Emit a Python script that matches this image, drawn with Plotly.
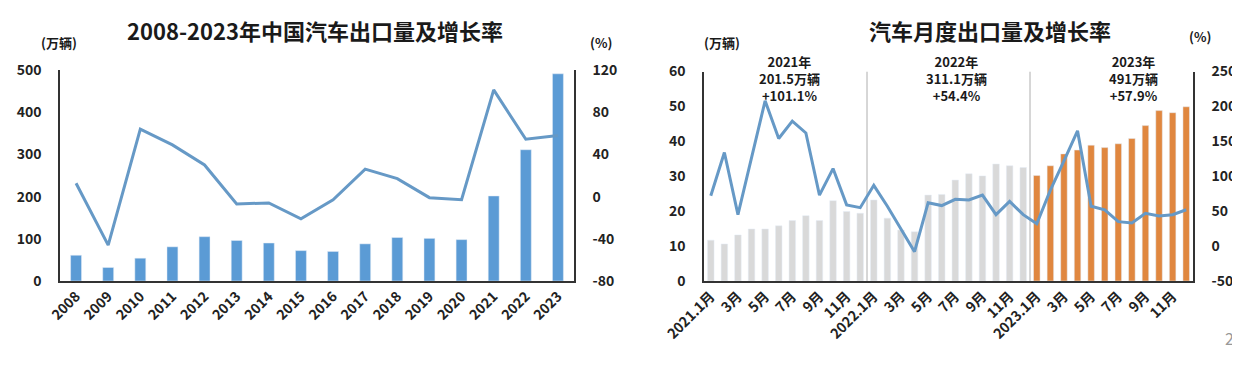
import plotly.graph_objects as go

# ---------------- data: annual exports ----------------
years = [str(y) for y in range(2008, 2024)]
annual_volume = [61, 32, 54, 81, 105, 96, 90, 72, 70, 88, 103, 101, 98, 201.5, 311.1, 491]  # 万辆
annual_growth = [12.6, -46, 64, 49, 30, -7, -6, -21, -3, 26, 17, -1, -3, 101.1, 54.4, 57.9]  # %
annual_rate_ticks = [-80, -40, 0, 40, 80, 120]
annual_rate_tick_labels = ["-80", "-40", "0", "40", "80", "120"]

# ---------------- data: monthly exports ----------------
months = [f"{y}.{m}" for y in (2021, 2022, 2023) for m in range(1, 13)]
month_tick_labels = ["2021.1月", "3月", "5月", "7月", "9月", "11月",
                     "2022.1月", "3月", "5月", "7月", "9月", "11月",
                     "2023.1月", "3月", "5月", "7月", "9月", "11月"]
volume_2021 = [11.7, 10.6, 13.2, 14.9, 14.9, 15.8, 17.3, 18.7, 17.3, 23.0, 19.9, 19.4]
volume_2022 = [23.2, 18.0, 14.6, 14.1, 24.6, 24.8, 28.9, 30.7, 30.1, 33.5, 33.0, 32.5]
volume_2023 = [30.2, 33.0, 36.4, 37.5, 38.9, 38.2, 39.3, 40.8, 44.5, 48.8, 48.2, 49.9]
monthly_growth = [72, 134, 45, 128, 208, 154, 179, 162, 73, 111, 59, 55,
                  87, 57, 25, -8, 62, 58, 67, 66, 73, 45, 64, 45,
                  32, 80, 122, 165, 57, 52, 35, 33, 47, 43, 45, 52]
monthly_rate_ticks = [-50, 0, 50, 100, 150, 200, 250]
monthly_rate_tick_labels = ["-50", "0", "50", "100", "150", "200", "250"]
year_notes = ["2021年<br>201.5万辆<br>+101.1%", "2022年<br>311.1万辆<br>+54.4%", "2023年<br>491万辆<br>+57.9%"]

BLUE_BAR = "#5b9bd5"
BLUE_LINE = "#6699c6"
GRAY = "#d9d9d9"
ORANGE = "#e0873f"
AXIS = "#333333"
FONT = "Noto Sans CJK SC"

monthly_volume = volume_2021 + volume_2022 + volume_2023
bar_colors = [GRAY] * (len(volume_2021) + len(volume_2022)) + [ORANGE] * len(volume_2023)

# page body has an 8px margin; figure sized so it sits inside the 1240x375 window
OFF = 8
W, H = 1240 - OFF, 375 - 2 * OFF
px = lambda x: (x - OFF) / W
py = lambda y: 1 - (y - OFF) / H

fig = go.Figure()
fig.add_trace(go.Bar(x=years, y=annual_volume, marker_color=BLUE_BAR, xaxis="x", yaxis="y",
                     showlegend=False))
fig.add_trace(go.Scatter(x=years, y=annual_growth, mode="lines", line=dict(color=BLUE_LINE, width=3),
                         xaxis="x", yaxis="y2", showlegend=False))
fig.add_trace(go.Bar(x=months, y=monthly_volume, marker_color=bar_colors, xaxis="x2", yaxis="y3",
                     showlegend=False, width=0.48))
fig.add_trace(go.Scatter(x=months, y=monthly_growth, mode="lines", line=dict(color=BLUE_LINE, width=3),
                         xaxis="x2", yaxis="y4", showlegend=False))

tickfont = dict(family=FONT, size=14, color="#222", weight="bold")
ld = [px(60), px(574)]
rd = [px(704), px(1193)]
yd = [py(281), py(70)]
yd2 = [py(281), py(71.5)]

common = dict(showline=True, linecolor=AXIS, linewidth=1.5, showgrid=False, automargin=False,
              tickfont=tickfont)

fig.update_layout(
    width=W, height=H, margin=dict(l=0, r=0, t=0, b=0, autoexpand=False),
    paper_bgcolor="white", plot_bgcolor="white",
    font=dict(family=FONT, color="#222"),
    bargap=0.66, barmode="overlay",
    xaxis=dict(domain=ld, anchor="y", type="category", tickangle=-45, ticks="",
               range=[-0.5, len(years) - 0.5], **common),
    yaxis=dict(domain=yd, anchor="x", range=[0, 500], dtick=100, zeroline=False,
               ticklabelstandoff=14, **common),
    yaxis2=dict(overlaying="y", side="right", anchor="x", range=[-80, 120],
                tickvals=annual_rate_ticks, ticktext=annual_rate_tick_labels,
                zeroline=False, ticklabelstandoff=14, **common),
    xaxis2=dict(domain=rd, anchor="y3", type="category", tickangle=-45,
                tickvals=months[::2], ticktext=month_tick_labels, ticks="",
                range=[-0.5, len(months) - 0.5], **common),
    yaxis3=dict(domain=yd2, anchor="x2", range=[0, 60], dtick=10, zeroline=False,
                ticklabelstandoff=14, **common),
    yaxis4=dict(overlaying="y3", side="right", anchor="x2", range=[-50, 250],
                tickvals=monthly_rate_ticks, ticktext=monthly_rate_tick_labels,
                zeroline=False, ticklabelstandoff=14, **common),
)

# year separators in the monthly chart
for b in (11.5, 23.5):
    fig.add_shape(type="line", xref="x2", yref="y3", x0=b, x1=b, y0=0, y1=60,
                  line=dict(color="#9a9a9a", width=0.8), layer="below")

bold = lambda s: dict(family=FONT, size=s, color="#1a1a1a", weight="bold")
ann = [
    dict(text="2008-2023年中国汽车出口量及增长率", x=px(315), y=py(30), font=bold(22)),
    dict(text="汽车月度出口量及增长率", x=px(990), y=py(30), font=bold(22)),
    dict(text="(万辆)", x=px(59), y=py(43), font=bold(13)),
    dict(text="(%)", x=px(601), y=py(42), font=bold(13)),
    dict(text="(万辆)", x=px(722), y=py(42), font=bold(13)),
    dict(text="(%)", x=px(1200), y=py(36), font=bold(13)),
    dict(text="2", x=px(1229), y=py(338), font=dict(family=FONT, size=16, color="#999")),
]
for a in ann:
    fig.add_annotation(xref="paper", yref="paper", showarrow=False, xanchor="center",
                       yanchor="middle", **a)

fig.add_annotation(x=years[-1], y=annual_volume[-1], xref="x", yref="y", text=str(annual_volume[-1]),
                   showarrow=False, yanchor="bottom", yshift=4, font=bold(14))
fig.add_annotation(x=years[-1], y=annual_growth[-1], xref="x", yref="y2", text=str(annual_growth[-1]),
                   showarrow=False, yanchor="bottom", xshift=-10, yshift=12, font=bold(14))

for xpos, note in zip((5.8, 18.1, 31.1), year_notes):
    fig.add_annotation(x=xpos, y=py(50), xref="x2", yref="paper", text=note, showarrow=False,
                       xanchor="center", yanchor="top", align="center", font=bold(13))

fig.write_html("out.html")
